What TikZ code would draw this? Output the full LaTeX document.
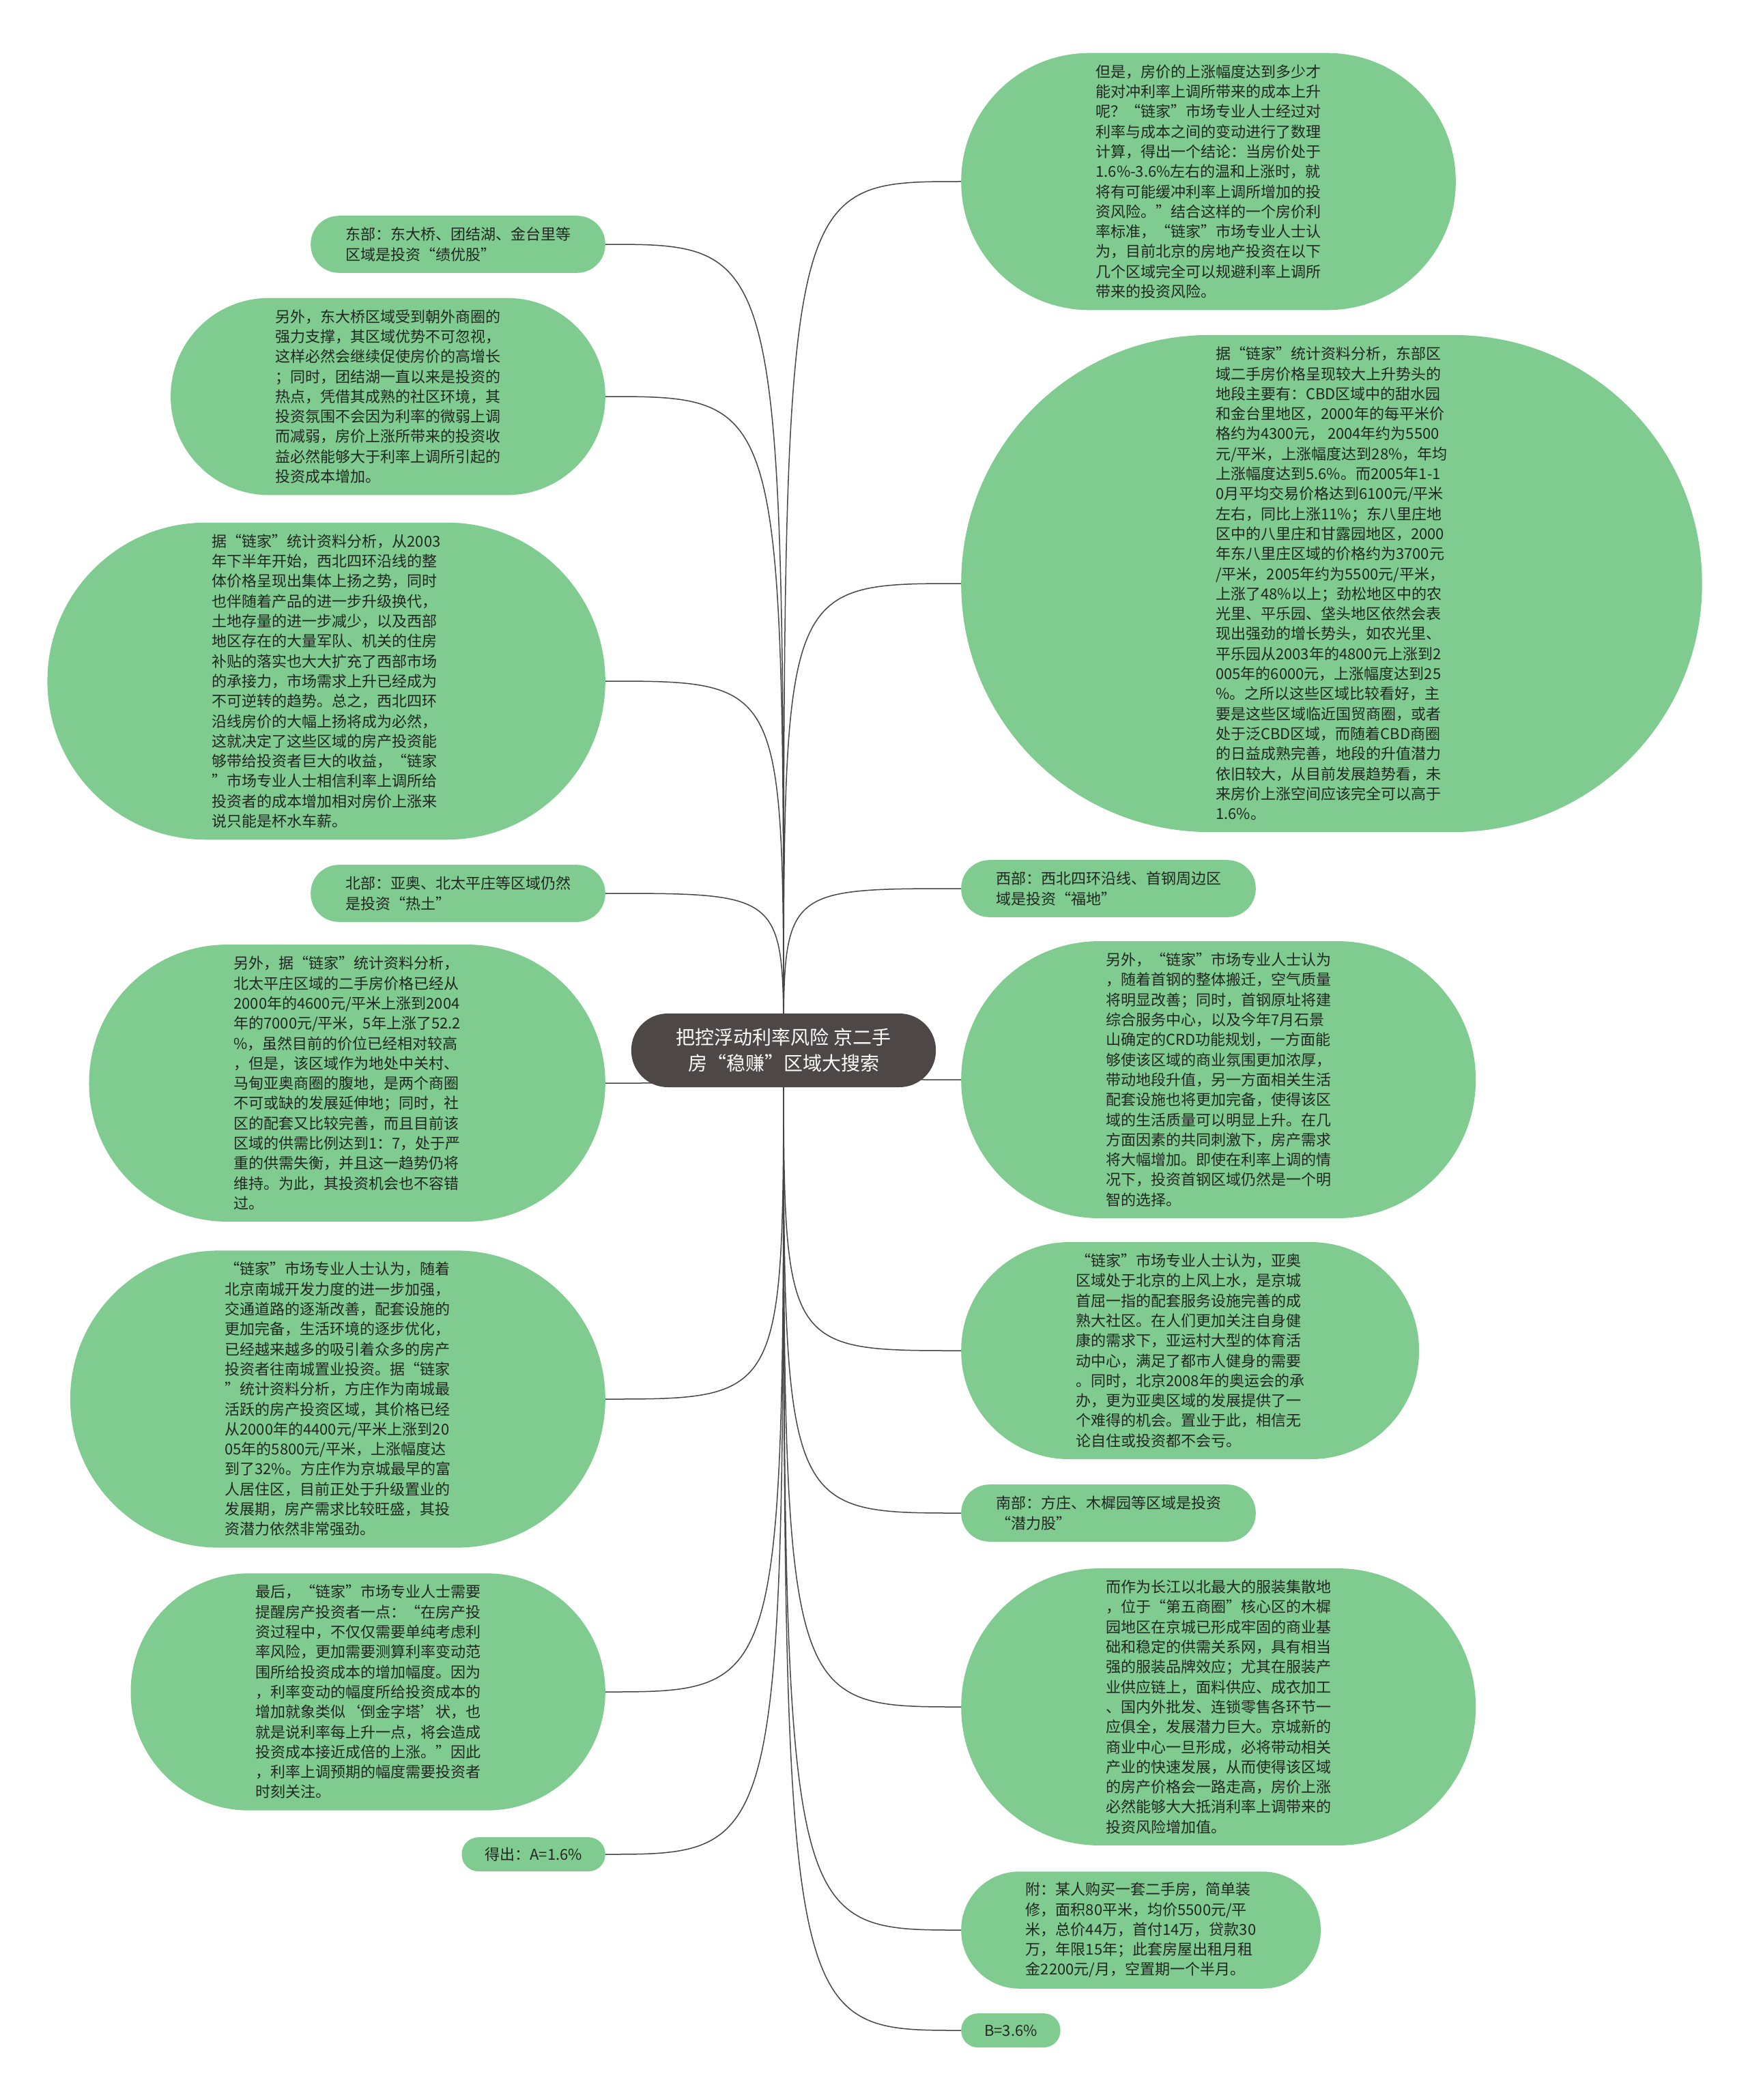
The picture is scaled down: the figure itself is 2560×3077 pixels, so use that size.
\documentclass[tikz,border=0pt]{standalone}
\usepackage{fontspec}
\setmainfont{Noto Sans CJK SC}
\usetikzlibrary{backgrounds}

\definecolor{ideagreen}{RGB}{128,204,144}
\definecolor{ideatext}{RGB}{34,38,34}
\definecolor{topicgray}{RGB}{77,72,71}
\definecolor{branchgray}{RGB}{70,70,70}

\begin{document}
\begin{tikzpicture}[x=1pt, y=-1pt,
  % #1 = number of text lines, sets the pill height
  idea/.style={rectangle, fill=ideagreen, text=ideatext, align=left,
    font=\fontsize{22}{29.3}\selectfont, inner ysep=3pt,
    minimum height={#1*29.3pt+25pt},
    inner xsep={(#1*29.3pt+25pt)/2+9pt},
    rounded corners={(#1*29.3pt+25pt)/2-0.5pt}},
  lidea/.style={idea=#1, anchor=east},
  ridea/.style={idea=#1, anchor=west},
  topic/.style={rectangle, fill=topicgray, text=white, align=center,
    minimum height=108pt, inner xsep=66pt, inner ysep=4pt,
    rounded corners=53.5pt, font=\fontsize{28}{38}\selectfont},
  branch/.style={draw=branchgray, line width=1.5pt,
    to path={.. controls (\tikztostart |- \tikztotarget) .. (\tikztotarget)}}
]
  \useasboundingbox (0,0) rectangle (2560,3077);

  % centre
  \node[topic] (topic) at (1148,1539) {把控浮动利率风险 京二手\\房“稳赚”区域大搜索};

  % left side
  \node[lidea=2] (dongbu) at (887,358) {东部：东大桥、团结湖、金台里等\\区域是投资“绩优股”};
  \node[lidea=9] (dongdaqiao) at (887,581) {另外，东大桥区域受到朝外商圈的\\
    强力支撑，其区域优势不可忽视，\\
    这样必然会继续促使房价的高增长\\
    ；同时，团结湖一直以来是投资的\\
    热点，凭借其成熟的社区环境，其\\
    投资氛围不会因为利率的微弱上调\\
    而减弱，房价上涨所带来的投资收\\
    益必然能够大于利率上调所引起的\\
    投资成本增加。};
  \node[lidea=15] (xisihuan) at (887,998) {据“链家”统计资料分析，从2003\\
    年下半年开始，西北四环沿线的整\\
    体价格呈现出集体上扬之势，同时\\
    也伴随着产品的进一步升级换代，\\
    土地存量的进一步减少，以及西部\\
    地区存在的大量军队、机关的住房\\
    补贴的落实也大大扩充了西部市场\\
    的承接力，市场需求上升已经成为\\
    不可逆转的趋势。总之，西北四环\\
    沿线房价的大幅上扬将成为必然，\\
    这就决定了这些区域的房产投资能\\
    够带给投资者巨大的收益，“链家\\
    ”市场专业人士相信利率上调所给\\
    投资者的成本增加相对房价上涨来\\
    说只能是杯水车薪。};
  \node[lidea=2] (beibu) at (887,1309) {北部：亚奥、北太平庄等区域仍然\\是投资“热土”};
  \node[lidea=13] (beitaipingzhuang) at (887,1587) {另外，据“链家”统计资料分析，\\
    北太平庄区域的二手房价格已经从\\
    2000年的4600元/平米上涨到2004\\
    年的7000元/平米，5年上涨了52.2\\
    \%，虽然目前的价位已经相对较高\\
    ，但是，该区域作为地处中关村、\\
    马甸亚奥商圈的腹地，是两个商圈\\
    不可或缺的发展延伸地；同时，社\\
    区的配套又比较完善，而且目前该\\
    区域的供需比例达到1：7，处于严\\
    重的供需失衡，并且这一趋势仍将\\
    维持。为此，其投资机会也不容错\\
    过。};
  \node[lidea=14] (nancheng) at (887,2050) {“链家”市场专业人士认为，随着\\
    北京南城开发力度的进一步加强，\\
    交通道路的逐渐改善，配套设施的\\
    更加完备，生活环境的逐步优化，\\
    已经越来越多的吸引着众多的房产\\
    投资者往南城置业投资。据“链家\\
    ”统计资料分析，方庄作为南城最\\
    活跃的房产投资区域，其价格已经\\
    从2000年的4400元/平米上涨到20\\
    05年的5800元/平米，上涨幅度达\\
    到了32\%。方庄作为京城最早的富\\
    人居住区，目前正处于升级置业的\\
    发展期，房产需求比较旺盛，其投\\
    资潜力依然非常强劲。};
  \node[lidea=11] (zuihou) at (887,2479) {最后，“链家”市场专业人士需要\\
    提醒房产投资者一点：“在房产投\\
    资过程中，不仅仅需要单纯考虑利\\
    率风险，更加需要测算利率变动范\\
    围所给投资成本的增加幅度。因为\\
    ，利率变动的幅度所给投资成本的\\
    增加就象类似‘倒金字塔’状，也\\
    就是说利率每上升一点，将会造成\\
    投资成本接近成倍的上涨。”因此\\
    ，利率上调预期的幅度需要投资者\\
    时刻关注。};
  \node[lidea=0.85] (dechu) at (887,2717) {得出：A=1.6\%};

  % right side
  \node[ridea=12] (danshi) at (1408,266) {但是，房价的上涨幅度达到多少才\\
    能对冲利率上调所带来的成本上升\\
    呢？“链家”市场专业人士经过对\\
    利率与成本之间的变动进行了数理\\
    计算，得出一个结论：当房价处于\\
    1.6\%-3.6\%左右的温和上涨时，就\\
    将有可能缓冲利率上调所增加的投\\
    资风险。”结合这样的一个房价利\\
    率标准，“链家”市场专业人士认\\
    为，目前北京的房地产投资在以下\\
    几个区域完全可以规避利率上调所\\
    带来的投资风险。};
  \node[ridea=24] (dongbuqu) at (1408,855) {据“链家”统计资料分析，东部区\\
    域二手房价格呈现较大上升势头的\\
    地段主要有：CBD区域中的甜水园\\
    和金台里地区，2000年的每平米价\\
    格约为4300元， 2004年约为5500\\
    元/平米，上涨幅度达到28\%，年均\\
    上涨幅度达到5.6\%。而2005年1-1\\
    0月平均交易价格达到6100元/平米\\
    左右，同比上涨11\%；东八里庄地\\
    区中的八里庄和甘露园地区，2000\\
    年东八里庄区域的价格约为3700元\\
    /平米，2005年约为5500元/平米，\\
    上涨了48\%以上；劲松地区中的农\\
    光里、平乐园、垡头地区依然会表\\
    现出强劲的增长势头，如农光里、\\
    平乐园从2003年的4800元上涨到2\\
    005年的6000元，上涨幅度达到25\\
    \%。之所以这些区域比较看好，主\\
    要是这些区域临近国贸商圈，或者\\
    处于泛CBD区域，而随着CBD商圈\\
    的日益成熟完善，地段的升值潜力\\
    依旧较大，从目前发展趋势看，未\\
    来房价上涨空间应该完全可以高于\\
    1.6\%。};
  \node[ridea=2] (xibu) at (1408,1302) {西部：西北四环沿线、首钢周边区\\域是投资“福地”};
  \node[ridea=13] (shougang) at (1408,1582) {另外，“链家”市场专业人士认为\\
    ，随着首钢的整体搬迁，空气质量\\
    将明显改善；同时，首钢原址将建\\
    综合服务中心，以及今年7月石景\\
    山确定的CRD功能规划，一方面能\\
    够使该区域的商业氛围更加浓厚，\\
    带动地段升值，另一方面相关生活\\
    配套设施也将更加完备，使得该区\\
    域的生活质量可以明显上升。在几\\
    方面因素的共同刺激下，房产需求\\
    将大幅增加。即使在利率上调的情\\
    况下，投资首钢区域仍然是一个明\\
    智的选择。};
  \node[ridea=10] (yaao) at (1408,1979) {“链家”市场专业人士认为，亚奥\\
    区域处于北京的上风上水，是京城\\
    首屈一指的配套服务设施完善的成\\
    熟大社区。在人们更加关注自身健\\
    康的需求下，亚运村大型的体育活\\
    动中心，满足了都市人健身的需要\\
    。同时，北京2008年的奥运会的承\\
    办，更为亚奥区域的发展提供了一\\
    个难得的机会。置业于此，相信无\\
    论自住或投资都不会亏。};
  \node[ridea=2] (nanbu) at (1408,2217) {南部：方庄、木樨园等区域是投资\\“潜力股”};
  \node[ridea=13] (muxiyuan) at (1408,2501) {而作为长江以北最大的服装集散地\\
    ，位于“第五商圈”核心区的木樨\\
    园地区在京城已形成牢固的商业基\\
    础和稳定的供需关系网，具有相当\\
    强的服装品牌效应；尤其在服装产\\
    业供应链上，面料供应、成衣加工\\
    、国内外批发、连锁零售各环节一\\
    应俱全，发展潜力巨大。京城新的\\
    商业中心一旦形成，必将带动相关\\
    产业的快速发展，从而使得该区域\\
    的房产价格会一路走高，房价上涨\\
    必然能够大大抵消利率上调带来的\\
    投资风险增加值。};
  \node[ridea=5] (fu) at (1408,2828) {附：某人购买一套二手房，简单装\\
    修，面积80平米，均价5500元/平\\
    米，总价44万，首付14万，贷款30\\
    万，年限15年；此套房屋出租月租\\
    金2200元/月，空置期一个半月。};
  \node[ridea=0.85] (bval) at (1408,2975) {B=3.6\%};

  % connectors
  \begin{scope}[on background layer]
    \fill[white] (0,0) rectangle (2560,3077);
    \path[branch]
      (topic.center) edge (dongbu.east)
      (topic.center) edge (dongdaqiao.east)
      (topic.center) edge (xisihuan.east)
      (topic.center) edge (beibu.east)
      (topic.center) edge (beitaipingzhuang.east)
      (topic.center) edge (nancheng.east)
      (topic.center) edge (zuihou.east)
      (topic.center) edge (dechu.east)
      (topic.center) edge (danshi.west)
      (topic.center) edge (dongbuqu.west)
      (topic.center) edge (xibu.west)
      (topic.center) edge (shougang.west)
      (topic.center) edge (yaao.west)
      (topic.center) edge (nanbu.west)
      (topic.center) edge (muxiyuan.west)
      (topic.center) edge (fu.west)
      (topic.center) edge (bval.west);
  \end{scope}
\end{tikzpicture}
\end{document}
